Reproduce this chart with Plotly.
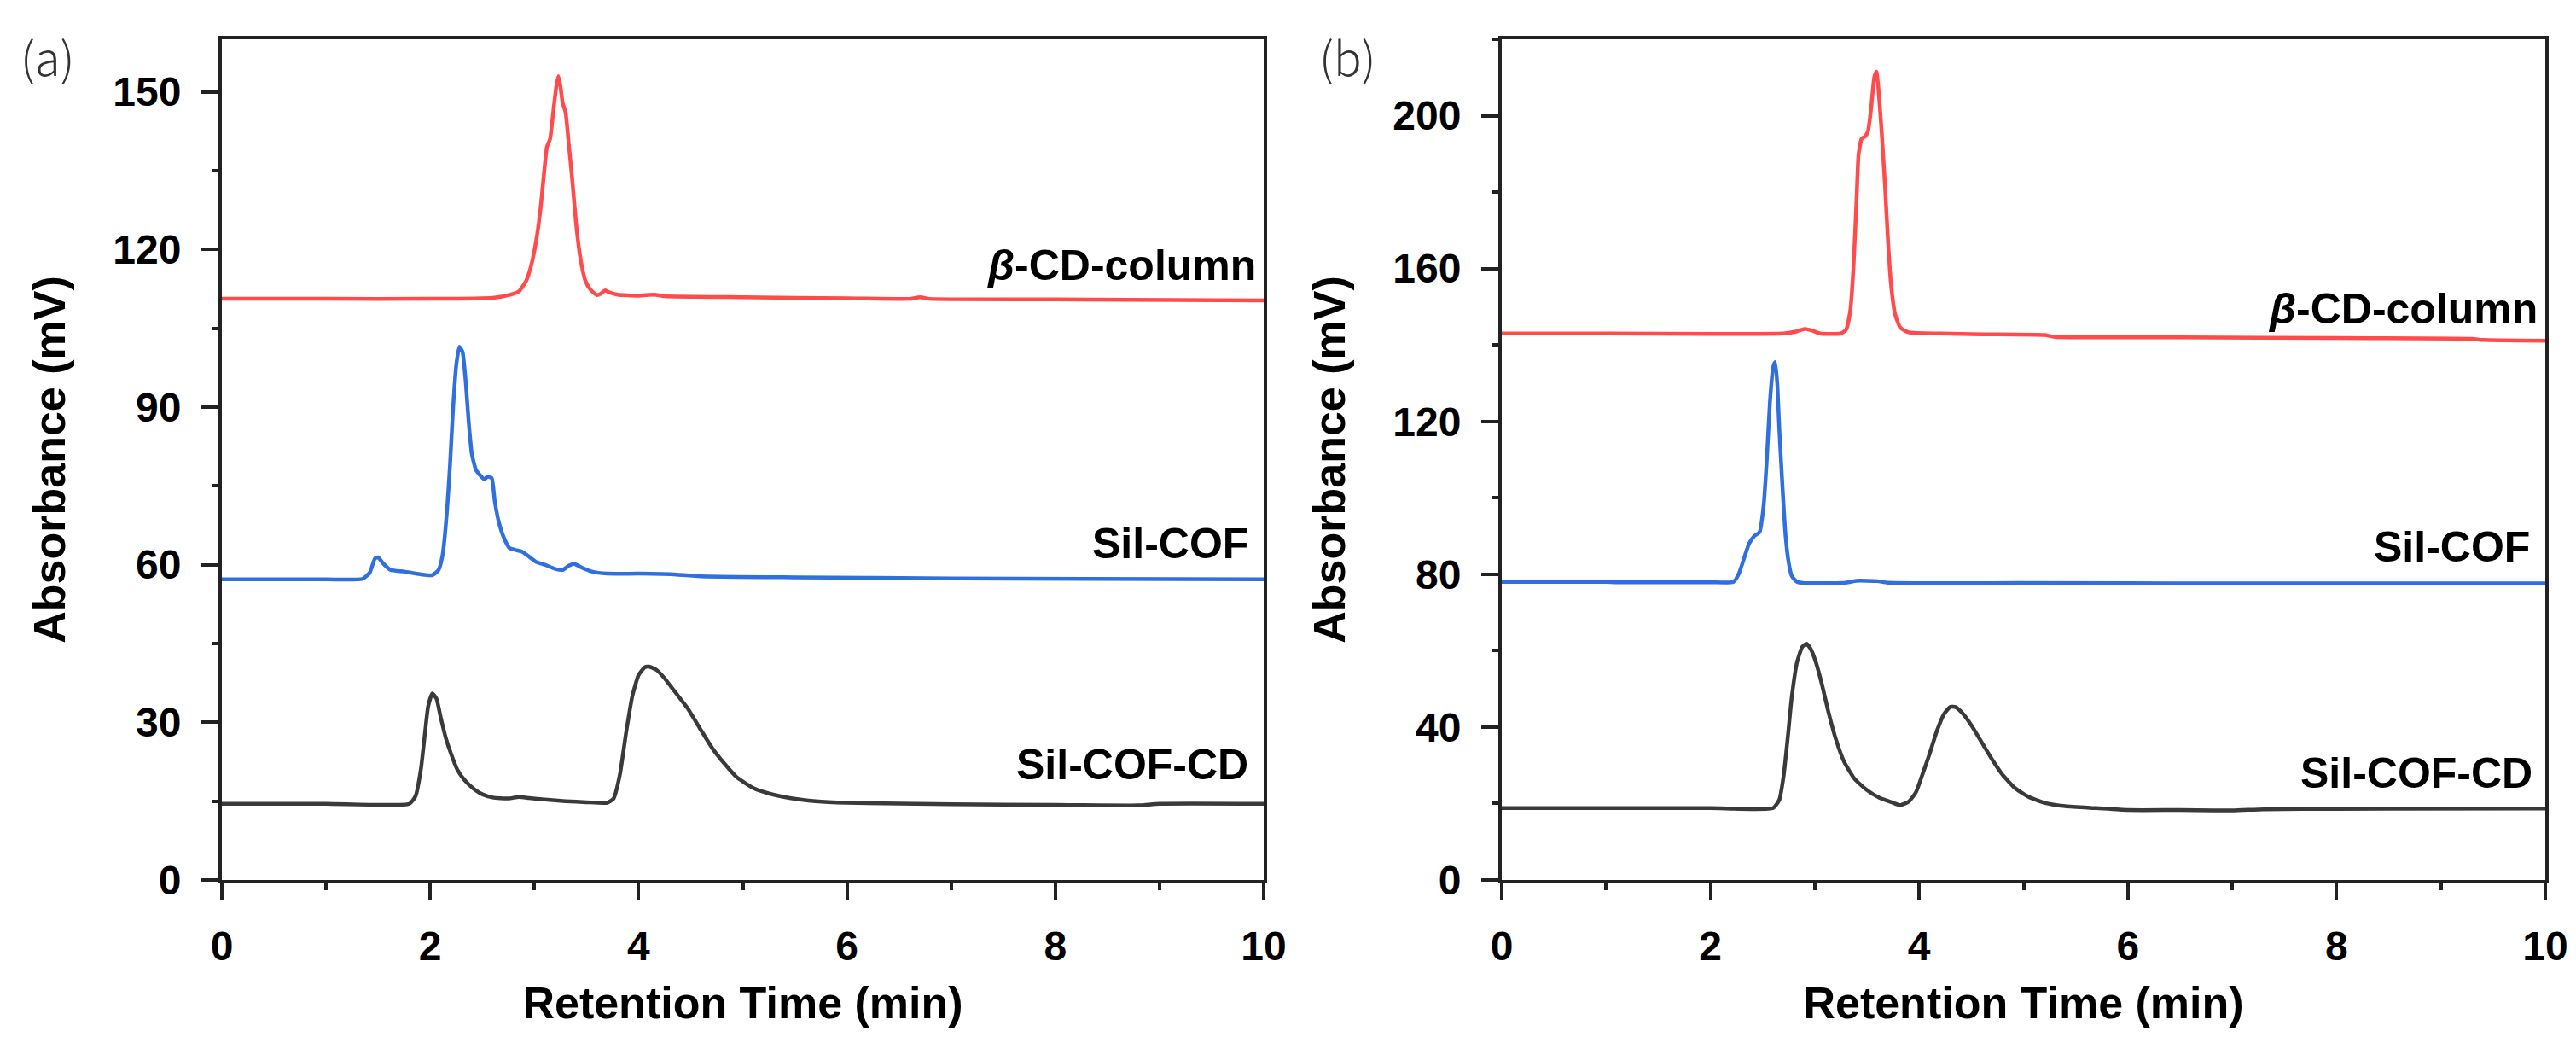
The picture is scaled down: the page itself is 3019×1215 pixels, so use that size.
import plotly.graph_objects as go

# panel (a) chromatograms
a_red_x = [0, 1.0, 2.0, 2.6, 2.75, 2.85, 2.92, 2.97, 3.02, 3.06, 3.09, 3.12, 3.15, 3.18, 3.21, 3.23, 3.25, 3.27,
           3.30, 3.33, 3.36, 3.40, 3.44, 3.49, 3.54, 3.6, 3.64, 3.68, 3.72, 3.8, 4.0, 4.15, 4.25, 5.0, 6.0, 6.6,
           6.7, 6.8, 8, 10]
a_red_y = [110.6, 110.6, 110.6, 110.8, 111.3, 112, 114, 117, 122, 128, 134, 139.5, 141, 146, 151, 153, 151, 148,
           146, 140, 134, 125, 118.5, 114, 112.3, 111.3, 111.6, 112.2, 111.8, 111.4, 111.2, 111.4, 111.1, 110.9,
           110.7, 110.6, 110.9, 110.6, 110.5, 110.3]

a_blue_x = [0, 1.0, 1.35, 1.42, 1.47, 1.5, 1.55, 1.62, 1.75, 1.9, 2.02, 2.08, 2.12, 2.16, 2.19, 2.22, 2.25, 2.28,
            2.31, 2.34, 2.37, 2.40, 2.44, 2.48, 2.52, 2.55, 2.59, 2.62, 2.66, 2.71, 2.76, 2.82, 2.88, 2.95, 3.02,
            3.1, 3.2, 3.27, 3.33, 3.38, 3.45, 3.55, 3.7, 4.0, 4.3, 4.6, 5.5, 7, 10]
a_blue_y = [57.2, 57.2, 57.3, 58.5, 61.2, 61.4, 60.2, 59, 58.7, 58.2, 58, 59, 62, 70, 79, 90, 98, 101.5,
            100.5, 95, 87, 81, 78, 77, 76.2, 76.8, 76.5, 72, 68, 65, 63.2, 62.8, 62.5, 61.5, 60.5,
            60, 59.2, 59, 59.8, 60.2, 59.5, 58.7, 58.3, 58.3, 58.2, 57.8, 57.6, 57.4, 57.2]

a_black_x = [0, 1.0, 1.8, 1.86, 1.91, 1.95, 1.98, 2.02, 2.06, 2.1, 2.15, 2.2, 2.26, 2.33, 2.42, 2.5, 2.6, 2.75,
             2.85, 2.95, 3.1, 3.3, 3.5, 3.7, 3.76, 3.82, 3.88, 3.94, 4.0, 4.06, 4.1, 4.17, 4.24, 4.35, 4.47,
             4.59, 4.71, 4.83, 4.94, 5.1, 5.26, 5.45, 5.7, 6.0, 7, 8, 8.8, 9, 10]
a_black_y = [14.5, 14.5, 14.5, 16, 21, 28, 33, 35.5, 34.5, 31, 27, 24, 21, 19, 17.3, 16.3, 15.7, 15.5,
             15.8, 15.6, 15.3, 15, 14.8, 14.7, 15.5, 20, 28, 35, 39, 40.5, 40.6, 40, 38.6, 35.8, 32.7,
             28.8, 25, 22, 19.6, 17.5, 16.4, 15.6, 15, 14.7, 14.4, 14.3, 14.2, 14.5, 14.5]

# panel (b) chromatograms
b_red_x = [0, 1, 2, 2.7, 2.82, 2.9, 2.97, 3.05, 3.25, 3.3, 3.34, 3.37, 3.40, 3.42, 3.45, 3.48, 3.51, 3.54, 3.57,
           3.59, 3.61, 3.64, 3.67, 3.7, 3.73, 3.77, 3.82, 3.9, 4.2, 4.6, 5.2, 5.3, 6.5, 8, 9.3, 9.4, 10]
b_red_y = [143, 143, 142.9, 143, 143.5, 144.2, 143.8, 143, 143, 144, 149, 160, 178, 190, 194, 194.5, 196, 202, 210,
           211.5, 207, 196, 183, 168, 156, 148, 144.5, 143.3, 143, 142.8, 142.6, 142.1, 142, 141.8, 141.6,
           141.3, 141.1]

b_blue_x = [0, 1, 1.1, 2.0, 2.22, 2.27, 2.32, 2.37, 2.42, 2.47, 2.51, 2.54, 2.57, 2.6, 2.62, 2.64, 2.66, 2.69,
            2.72, 2.75, 2.78, 2.83, 2.9, 3.3, 3.4, 3.6, 3.7, 5, 7, 10]
b_blue_y = [78, 78, 77.9, 77.9, 78, 80, 84, 88, 90, 91, 98, 110, 125, 134, 135.5, 130, 118, 103,
            90, 83, 79.5, 78, 77.7, 77.8, 78.3, 78.2, 77.8, 77.7, 77.6, 77.6]

b_black_x = [0, 1, 2, 2.6, 2.66, 2.7, 2.74, 2.78, 2.83, 2.88, 2.92, 2.96, 3.01, 3.07, 3.13, 3.2, 3.28, 3.38, 3.5,
             3.62, 3.74, 3.82, 3.9, 3.97, 4.03, 4.1, 4.17, 4.24, 4.3, 4.35, 4.42, 4.5, 4.6, 4.7, 4.8, 4.92,
             5.05, 5.2, 5.4, 5.7, 6.0, 6.5, 7, 7.3, 8, 10]
b_black_y = [18.8, 18.8, 18.8, 18.8, 21, 27, 37, 48, 57, 61, 61.8, 60.5, 57, 51, 44, 37, 31, 26.5, 23.5,
             21.5, 20.3, 19.6, 20.5, 23, 27.5, 33, 39, 43.5, 45.3, 45.2, 43.5, 40.5, 36, 31.5, 27.5, 24,
             21.7, 20.2, 19.3, 18.8, 18.3, 18.3, 18.2, 18.5, 18.6, 18.7]

names = ["β-CD-column", "Sil-COF", "Sil-COF-CD"]
label_pos_a = [(9.94, 117), (9.87, 64), (9.87, 22)]
label_pos_b = [(9.94, 149.4), (9.87, 87), (9.89, 28)]

RED = "#ff4b4b"
BLUE = "#2f6fe0"
BLACK = "#3a3a3a"
W, H = 3019, 1215

fig = go.Figure()
for xs, ys, c in [(a_red_x, a_red_y, RED), (a_blue_x, a_blue_y, BLUE), (a_black_x, a_black_y, BLACK)]:
    fig.add_trace(go.Scatter(x=xs, y=ys, mode="lines", line=dict(color=c, width=4.5, shape="spline", smoothing=0.5),
                             xaxis="x", yaxis="y", showlegend=False))
for xs, ys, c in [(b_red_x, b_red_y, RED), (b_blue_x, b_blue_y, BLUE), (b_black_x, b_black_y, BLACK)]:
    fig.add_trace(go.Scatter(x=xs, y=ys, mode="lines", line=dict(color=c, width=4.5, shape="spline", smoothing=0.5),
                             xaxis="x2", yaxis="y2", showlegend=False))

tickfont = dict(family="Liberation Sans", size=48, color="black", weight="bold")
titlefont = dict(family="Liberation Sans", size=52, color="black", weight="bold")
ydom = [1 - 1023 / H, 1 - 38 / H]


def xax(dom, anchor):
    return dict(domain=dom, anchor=anchor, range=[0, 10], dtick=2, tick0=0, ticks="outside", ticklen=20,
                tickwidth=4, tickcolor="#222", showline=True, linewidth=4, linecolor="#222", mirror=True,
                showgrid=False, zeroline=False, tickfont=tickfont, ticklabelstandoff=12, automargin=False,
                minor=dict(dtick=1, ticks="outside", ticklen=8, tickwidth=4, tickcolor="#222", showgrid=False),
                title=dict(text="Retention Time (min)", font=titlefont, standoff=24))


def yax(rng, dt, mdt, anchor):
    return dict(domain=ydom, anchor=anchor, range=rng, dtick=dt, tick0=0, ticks="outside", ticklen=20,
                tickwidth=4, tickcolor="#222", showline=True, linewidth=4, linecolor="#222", mirror=True,
                showgrid=False, zeroline=False, tickfont=tickfont, ticklabelstandoff=14, automargin=False,
                minor=dict(dtick=mdt, ticks="outside", ticklen=8, tickwidth=4, tickcolor="#222", showgrid=False),
                title=dict(text="Absorbance (mV)", font=titlefont, standoff=40))


fig.update_layout(
    template="none",
    width=W, height=H,
    margin=dict(l=0, r=0, t=0, b=0),
    paper_bgcolor="white", plot_bgcolor="white",
    showlegend=False,
    xaxis=xax([252 / W, 1473 / W], "y"),
    yaxis=yax([0, 160], 30, 15, "x"),
    xaxis2=xax([1752 / W, 2975 / W], "y2"),
    yaxis2=yax([0, 220], 40, 20, "x2"),
)

labfont = dict(family="Liberation Sans", size=50, color="black", weight="bold")
for (px, py), n in zip(label_pos_a, names):
    txt = "<i>β</i>-CD-column" if n.startswith("β") else n
    fig.add_annotation(x=px, y=py, xref="x", yref="y", text=txt, showarrow=False, xanchor="right",
                       yanchor="middle", font=labfont)
for (px, py), n in zip(label_pos_b, names):
    txt = "<i>β</i>-CD-column" if n.startswith("β") else n
    fig.add_annotation(x=px, y=py, xref="x2", yref="y2", text=txt, showarrow=False, xanchor="right",
                       yanchor="middle", font=labfont)

panelfont = dict(family="Noto Sans CJK SC", size=54, color="#333", weight=300)
fig.add_annotation(x=14 / W, y=1 - 57 / H, xref="paper", yref="paper", text="(a)", showarrow=False,
                   xanchor="left", yanchor="middle", font=panelfont)
fig.add_annotation(x=1536 / W, y=1 - 57 / H, xref="paper", yref="paper", text="(b)", showarrow=False,
                   xanchor="left", yanchor="middle", font=panelfont)

fig.write_html("out.html")
